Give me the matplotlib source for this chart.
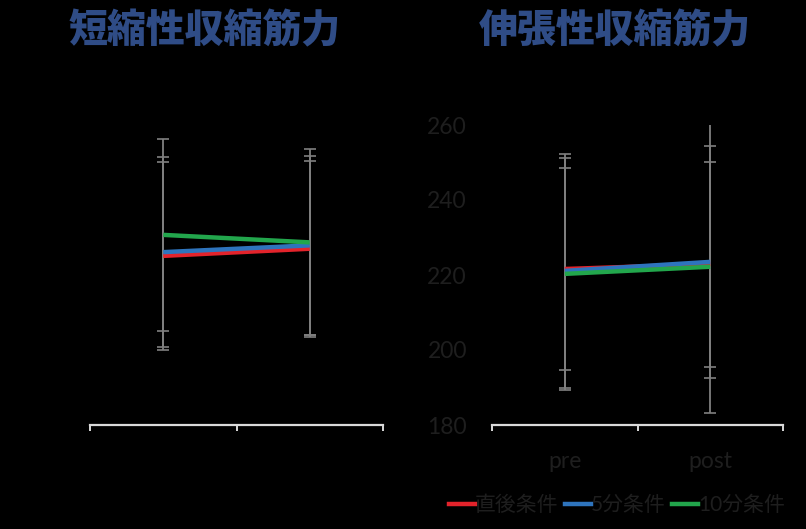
import matplotlib
matplotlib.use("Agg")
import matplotlib.pyplot as plt
from matplotlib.lines import Line2D

plt.rcParams["font.family"] = ["Lato", "Noto Sans CJK JP"]

# data
categories = ["pre", "post"]
series_names = ["直後条件", "5分条件", "10分条件"]
series_colors = ["#e3232b", "#2e74bd", "#22a64c"]

# short (concentric) - axis labels not shown in the original
conc_mean = {
    "直後条件": [165.1, 167.0],
    "5分条件": [166.1, 167.9],
    "10分条件": [170.7, 168.7],
}
conc_sd = {
    "直後条件": [25.1, 23.5],
    "5分条件": [25.4, 23.8],
    "10分条件": [25.5, 24.8],
}

# eccentric
ecc_mean = {
    "直後条件": [221.6, 222.9],
    "5分条件": [221.1, 223.5],
    "10分条件": [220.3, 222.2],
}
ecc_sd = {
    "直後条件": [26.9, 27.3],
    "5分条件": [31.3, 30.9],
    "10分条件": [31.0, 39.0],
}

ecc_yticks = [180, 200, 220, 240, 260]

title_left = "短縮性収縮筋力"
title_right = "伸張性収縮筋力"

BG = "black"
TXT = "#1e1e1e"
AXIS = "#d9d9d9"
ERR = "#808080"
TITLE = "#2f4c86"

fig = plt.figure(figsize=(8.06, 5.29), dpi=100, facecolor=BG)
ax_l = fig.add_axes([90 / 806, 1 - 425 / 529, 293 / 806, 300 / 529])
ax_r = fig.add_axes([492 / 806, 1 - 425 / 529, 291 / 806, 300 / 529])

x = [0.5, 1.5]


def draw(ax, means, sds, ylim):
    ax.set_facecolor(BG)
    for name in series_names:
        ax.errorbar(x, means[name], yerr=sds[name], fmt="none", ecolor=ERR,
                    elinewidth=1.3, capsize=4, capthick=1.2, zorder=1)
    for name, col in zip(series_names, series_colors):
        ax.plot(x, means[name], color=col, lw=3.2, solid_capstyle="butt", zorder=3)
    ax.set_xlim(0, 2)
    ax.set_ylim(*ylim)
    for s in ["top", "right", "left"]:
        ax.spines[s].set_visible(False)
    ax.spines["bottom"].set_color(AXIS)
    ax.spines["bottom"].set_linewidth(1.6)
    ax.set_xticks([0, 1, 2])
    ax.set_xticklabels([])
    ax.tick_params(axis="x", which="major", direction="out", length=4,
                   width=1.4, color=AXIS)


draw(ax_l, conc_mean, conc_sd, (120, 200))
ax_l.set_yticks([])

draw(ax_r, ecc_mean, ecc_sd, (180, 260))
ax_r.set_yticks(ecc_yticks)
ax_r.tick_params(axis="y", length=0, pad=18, labelsize=16.5, labelcolor=TXT)
ax_r.set_xticks(x, minor=True)
ax_r.set_xticklabels(categories, minor=True)
ax_r.tick_params(axis="x", which="minor", length=0, pad=19, labelsize=16.5,
                 labelcolor=TXT)

fig.text(205 / 806, 1 - 31 / 529, title_left, ha="center", va="center",
         fontsize=28, fontweight="black", color=TITLE,
         family=["Noto Sans CJK JP"])
fig.text(615 / 806, 1 - 31 / 529, title_right, ha="center", va="center",
         fontsize=28, fontweight="black", color=TITLE,
         family=["Noto Sans CJK JP"])

handles = [Line2D([], [], color=c, lw=3.2) for c in series_colors]
leg = fig.legend(handles, series_names, loc="center", ncol=3,
                 bbox_to_anchor=(617 / 806, 1 - 505 / 529), frameon=False,
                 fontsize=15, handlelength=1.25, handletextpad=0.0,
                 columnspacing=0.3)
for t in leg.get_texts():
    t.set_color(TXT)

fig.savefig("out.png", dpi=100, facecolor=BG)
